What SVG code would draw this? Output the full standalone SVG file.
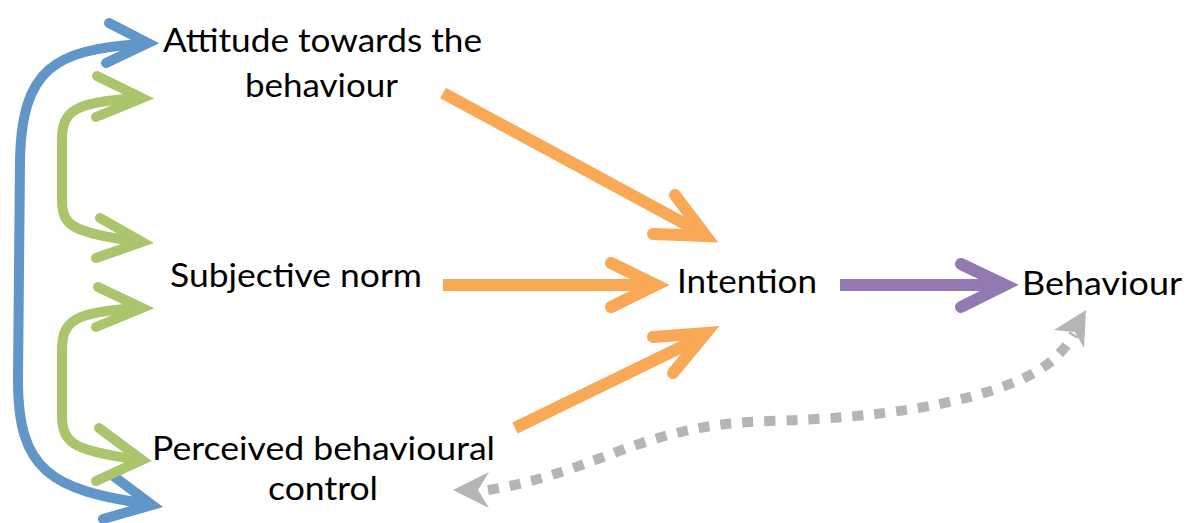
<svg xmlns="http://www.w3.org/2000/svg" width="1195" height="523" viewBox="0 0 1195 523">
  <style>
    .lbl { font-family: Lato, "Open Sans", "Liberation Sans", sans-serif; font-size: 33px; fill: #000; text-anchor: middle; }
    .shaft { fill: none; stroke-linecap: butt; }
    .head { fill: none; stroke-linecap: round; stroke-linejoin: miter; stroke-miterlimit: 10; }
    .blue { stroke: #6196C9; stroke-width: 10; }
    .green { stroke: #AAC56B; stroke-width: 10; }
    .orange { stroke: #F9A856; stroke-width: 12; }
    .purple { stroke: #9379B2; stroke-width: 12; }
    .dotted { fill: none; stroke: #B5B5B5; stroke-width: 10; stroke-dasharray: 11 11; }
    .gray-head { fill: #B5B5B5; }
  </style>
  <rect width="1195" height="523" fill="#fff"/>

  <g id="connectors">
    <!-- correlation between attitude and perceived control -->
    <path class="shaft blue" d="M140,44 C 55,50 22,68 20,160 L 18,380 C 18,470 50,490 148,504"/>
    <polyline class="head blue" points="109,23 148,43 106,63"/>
    <polyline class="head blue" points="112,475 152,505 103,519"/>

    <!-- correlation between attitude and subjective norm -->
    <path class="shaft green" d="M138,98 C 75,102 62,110 62,140 L 62,200 C 62,228 75,232 138,242"/>
    <polyline class="head green" points="97,76 142,98 96,117"/>
    <polyline class="head green" points="100,218 142,242 96,258"/>

    <!-- correlation between subjective norm and perceived control -->
    <path class="shaft green" d="M138,308 C 75,312 62,320 62,350 L 62,415 C 62,445 75,450 138,460"/>
    <polyline class="head green" points="98,287 142,308 96,327"/>
    <polyline class="head green" points="99,428 142,460 96,481"/>

    <!-- predictors of intention -->
    <line class="shaft orange" x1="443" y1="93" x2="702" y2="233"/>
    <polyline class="head orange" points="675,195 706,236 653,234"/>
    <line class="shaft orange" x1="443" y1="285" x2="652" y2="285"/>
    <polyline class="head orange" points="611,263 656,285 611,307"/>
    <line class="shaft orange" x1="515" y1="428" x2="702" y2="337"/>
    <polyline class="head orange" points="653,337 706,333 673,373"/>

    <!-- intention to behaviour -->
    <line class="shaft purple" x1="840" y1="285" x2="1000" y2="285"/>
    <polyline class="head purple" points="961,264 1005,285 961,307"/>

    <!-- perceived control acting directly on behaviour -->
    <path class="dotted" d="M488,490 C 600,472 640,424 770,421 C 880,418 960,405 1020,380 C 1052,366 1066,348 1074,334"/>
    <path class="gray-head" d="M453,490 L 489,472 L 478,490 L 489,508 Z"/>
    <path class="gray-head" d="M1086,310 L 1084,348 L 1075,332 L 1054,330 Z"/>
  </g>

  <g id="attitude">
    <text class="lbl" x="322.5" y="52" textLength="319" lengthAdjust="spacingAndGlyphs">Attitude towards the</text>
    <text class="lbl" x="321.5" y="97" textLength="153" lengthAdjust="spacingAndGlyphs">behaviour</text>
  </g>
  <g id="subjective-norm">
    <text class="lbl" x="296" y="287" textLength="252" lengthAdjust="spacingAndGlyphs">Subjective norm</text>
  </g>
  <g id="perceived-control">
    <text class="lbl" x="323.5" y="460" textLength="343" lengthAdjust="spacingAndGlyphs">Perceived behavioural</text>
    <text class="lbl" x="323" y="500" textLength="110" lengthAdjust="spacingAndGlyphs">control</text>
  </g>
  <g id="intention">
    <text class="lbl" x="747" y="293" textLength="140" lengthAdjust="spacingAndGlyphs">Intention</text>
  </g>
  <g id="behaviour">
    <text class="lbl" x="1102" y="295" textLength="160" lengthAdjust="spacingAndGlyphs">Behaviour</text>
  </g>
</svg>
